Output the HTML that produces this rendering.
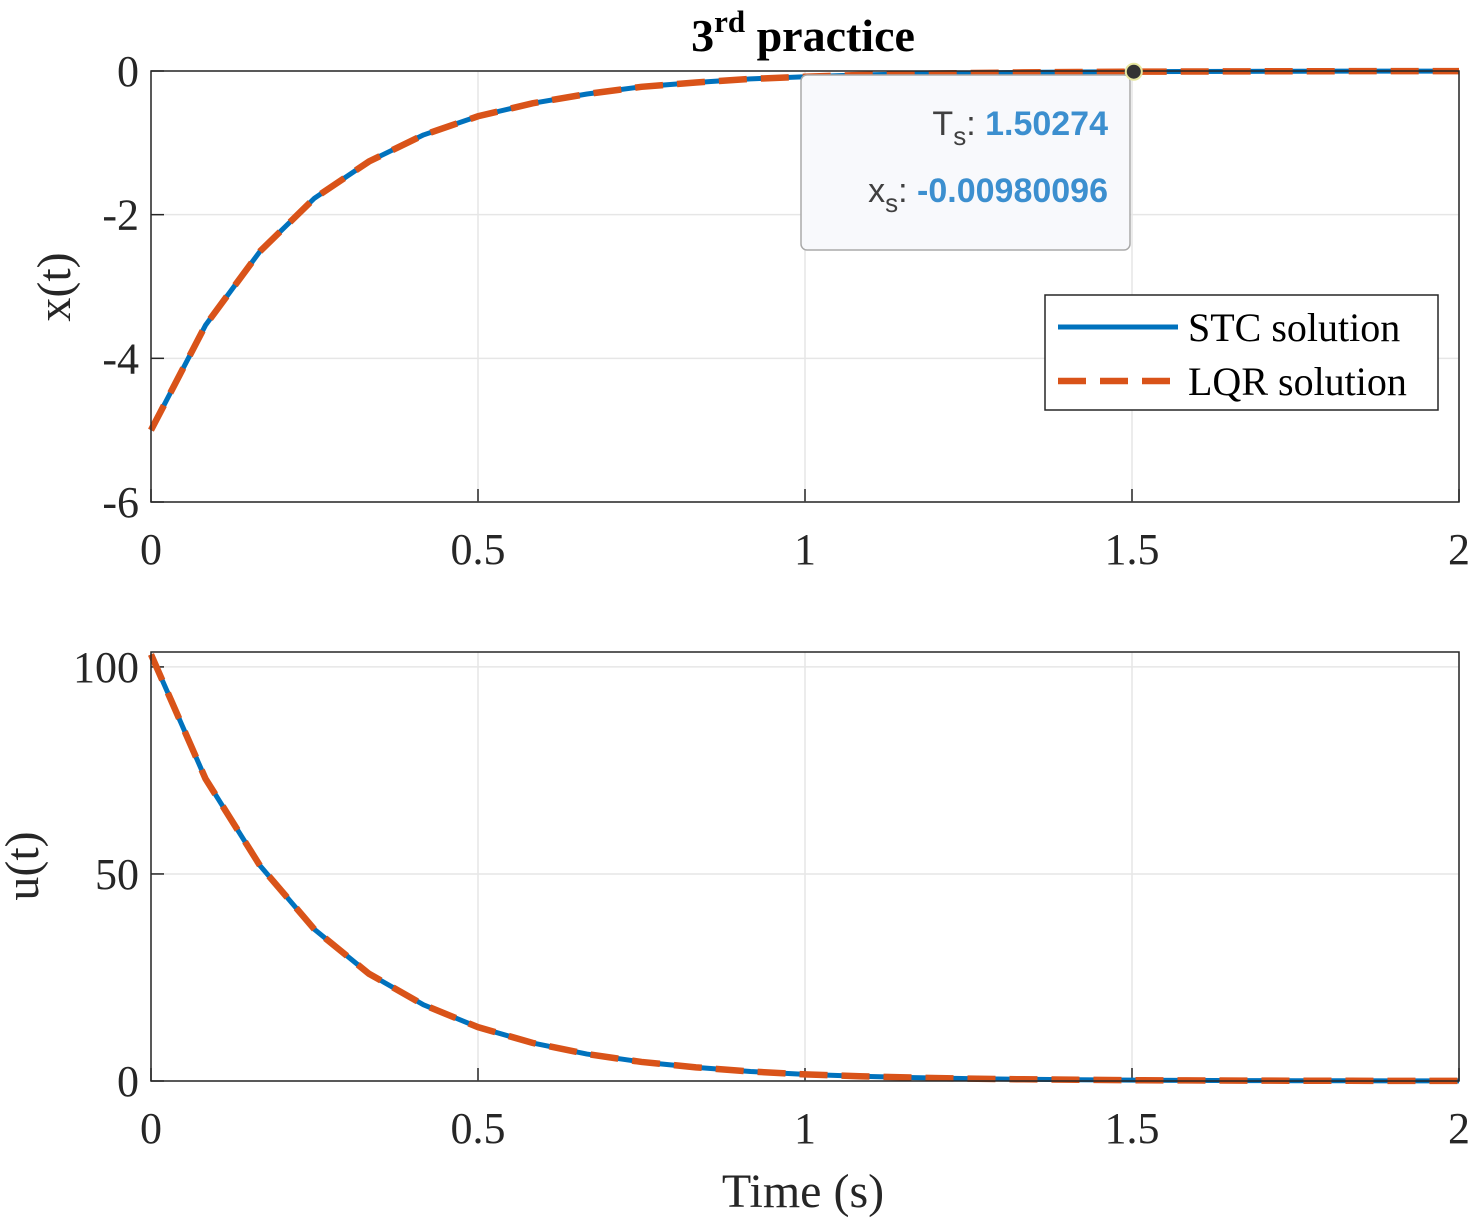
<!DOCTYPE html>
<html><head><meta charset="utf-8">
<style>
html,body{margin:0;padding:0;background:#fff;}
svg{display:block;font-family:"Liberation Serif",serif;}
</style></head>
<body>
<svg id="chart" width="1469" height="1220" viewBox="0 0 1469 1220" xmlns="http://www.w3.org/2000/svg">
<g id="topPlot"></g>
<g id="botPlot"></g>
<text x="803" y="51" text-anchor="middle" font-size="46" font-weight="bold" fill="#000">3<tspan dy="-19" font-size="31">rd</tspan><tspan dy="19"> practice</tspan></text>
<text x="803" y="1207" text-anchor="middle" font-size="48" fill="#262626">Time (s)</text>
<text transform="translate(70,287) rotate(-90)" text-anchor="middle" font-size="48" fill="#262626">x(t)</text>
<text transform="translate(38,866) rotate(-90)" text-anchor="middle" font-size="48" fill="#262626">u(t)</text>
</svg>
<script>
const times = [0,0.0833,0.1667,0.25,0.3333,0.4167,0.5,0.5833,0.6667,0.75,0.8333,0.9167,1,1.0833,1.1667,1.25,1.3333,1.4167,1.5,1.5833,1.6667,1.75,1.8333,1.9167,2];
const xStc = [-5,-3.54,-2.51,-1.77,-1.26,-0.89,-0.63,-0.45,-0.32,-0.22,-0.16,-0.11,-0.08,-0.056,-0.04,-0.028,-0.02,-0.014,-0.01,-0.007,-0.005,-0.0035,-0.0025,-0.0018,-0.0012];
const xLqr = [-5,-3.54,-2.51,-1.77,-1.26,-0.89,-0.63,-0.45,-0.32,-0.22,-0.16,-0.11,-0.08,-0.056,-0.04,-0.028,-0.02,-0.014,-0.01,-0.007,-0.005,-0.0035,-0.0025,-0.0018,-0.0012];
const uStc = [103,73,52,36.6,25.9,18.4,13.0,9.2,6.5,4.6,3.3,2.3,1.6,1.15,0.82,0.58,0.41,0.29,0.2,0.14,0.1,0.07,0.05,0.036,0.025];
const uLqr = [103,73,52,36.6,25.9,18.4,13.0,9.2,6.5,4.6,3.3,2.3,1.6,1.15,0.82,0.58,0.41,0.29,0.2,0.14,0.1,0.07,0.05,0.036,0.025];
const xTicks = [0,0.5,1,1.5,2];
const xTickLabels = ["0","0.5","1","1.5","2"];
const yTopTicks = [0,-2,-4,-6];
const yTopLabels = ["0","-2","-4","-6"];
const yBotTicks = [0,50,100];
const yBotLabels = ["0","50","100"];
const tipT = [1.50274];
const tipX = [-0.00980096];

const NS="http://www.w3.org/2000/svg";
function mk(p,tag,a){const e=document.createElementNS(NS,tag);for(const k in a)e.setAttribute(k,a[k]);p.appendChild(e);return e;}
const L=151,R=1459;
const sx=t=>L+(t-0)/(2-0)*(R-L);

function axes(g,T,B,ymin,ymax,ticks,labels,s1,s2,nm){
  const sy=v=>B-(v-ymin)/(ymax-ymin)*(B-T);
  const bg=mk(g,'rect',{x:L,y:T,width:R-L,height:B-T,fill:'#fff'});
  
  
  xTicks.forEach((t,i)=>{
    const gl=mk(g,'line',{x1:sx(t),x2:sx(t),y1:T,y2:B,stroke:'#e6e6e6','stroke-width':1.5});
    
    
    const tk=mk(g,'line',{x1:sx(t),x2:sx(t),y1:B,y2:B-13,stroke:'#262626','stroke-width':1.5});
    
    
    const tl=mk(g,'text',{x:sx(t),y:B+62,'text-anchor':'middle','font-size':44,fill:'#262626'});
    tl.textContent=xTickLabels[i];
    
    
  });
  ticks.forEach((v,i)=>{
    const gl=mk(g,'line',{x1:L,x2:R,y1:sy(v),y2:sy(v),stroke:'#e6e6e6','stroke-width':1.5});
    
    
    const tk=mk(g,'line',{x1:L,x2:L+13,y1:sy(v),y2:sy(v),stroke:'#262626','stroke-width':1.5});
    
    
    const tl=mk(g,'text',{x:L-12,y:sy(v)+15,'text-anchor':'end','font-size':44,fill:'#262626'});
    tl.textContent=labels[i];
    
    
  });
  const pts=a=>a.map((v,i)=>sx(times[i])+','+sy(v)).join(' ');
  const l1=mk(g,'polyline',{points:pts(s1),fill:'none',stroke:'#0072bd','stroke-width':5,'stroke-linejoin':'round'});
  
  
  const l2=mk(g,'polyline',{points:pts(s2),fill:'none',stroke:'#d95319','stroke-width':6.5,'stroke-dasharray':'28 14'});
  
  
  const bx=mk(g,'rect',{x:L,y:T,width:R-L,height:B-T,fill:'none',stroke:'#262626','stroke-width':1.5});
  
  
  return sy;
}
const topG=document.getElementById('topPlot');
const syT=axes(topG,71,502,-6,0,yTopTicks,yTopLabels,xStc,xLqr,'top');
axes(document.getElementById('botPlot'),652,1081,0,103.6,yBotTicks,yBotLabels,uStc,uLqr,'bottom');

const tip=mk(topG,'g',{});


mk(tip,'rect',{x:801,y:75,width:329,height:175,rx:6,fill:'#f8f9fc',stroke:'#aaaaaa','stroke-width':1.5});
const t1=mk(tip,'text',{x:1108,y:135,'text-anchor':'end','font-family':'Liberation Sans, sans-serif','font-size':34,fill:'#404040'});
t1.innerHTML='T<tspan dy="10" font-size="26">s</tspan><tspan dy="-10">: </tspan><tspan font-weight="bold" fill="#3c8fcf">'+tipT[0]+'</tspan>';
const t2=mk(tip,'text',{x:1108,y:202,'text-anchor':'end','font-family':'Liberation Sans, sans-serif','font-size':34,fill:'#404040'});
t2.innerHTML='x<tspan dy="10" font-size="26">s</tspan><tspan dy="-10">: </tspan><tspan font-weight="bold" fill="#3c8fcf">'+tipX[0]+'</tspan>';
const mkr=mk(topG,'circle',{cx:sx(tipT[0]),cy:syT(tipX[0]),r:8,fill:'#333',stroke:'#e8e8a0','stroke-width':2});



const lg=mk(topG,'g',{});


mk(lg,'rect',{x:1045,y:295,width:393,height:115,fill:'#fff',stroke:'#262626','stroke-width':1.5});
mk(lg,'line',{x1:1058,x2:1178,y1:327,y2:327,stroke:'#0072bd','stroke-width':5});
mk(lg,'line',{x1:1058,x2:1178,y1:381,y2:381,stroke:'#d95319','stroke-width':6.5,'stroke-dasharray':'28 14'});
const a=mk(lg,'text',{x:1188,y:341,'font-size':40,fill:'#000'});a.textContent='STC solution';


const b=mk(lg,'text',{x:1188,y:395,'font-size':40,fill:'#000'});b.textContent='LQR solution';


</script>
</body></html>
